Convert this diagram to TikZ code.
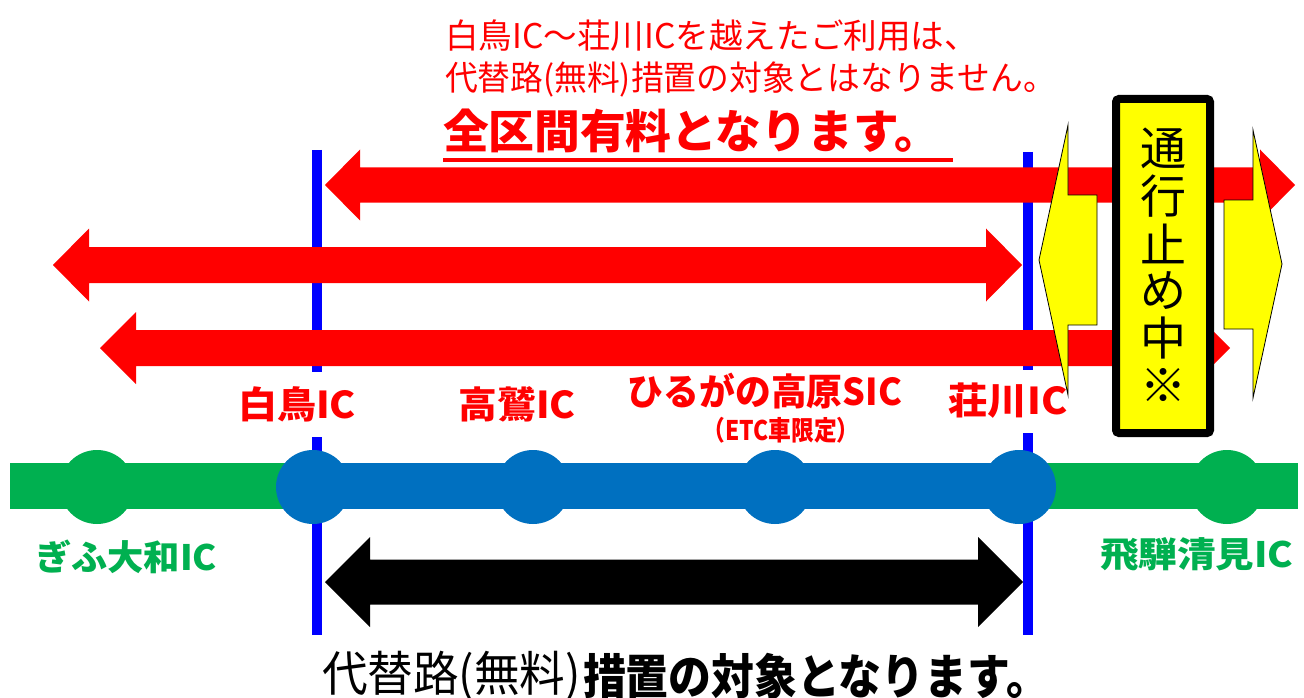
\documentclass[tikz,border=0pt]{standalone}
\usepackage{fontspec}
\usepackage{graphicx}
\setmainfont{Noto Sans CJK JP}
\definecolor{bandblue}{HTML}{0070C0}
\definecolor{grn}{HTML}{00B050}
\definecolor{lineblue}{HTML}{0000FF}
\definecolor{yel}{HTML}{FFFF00}
\newcommand{\fw}[2]{\resizebox{#1pt}{\height}{#2}}
\newcommand{\dblarrow}[7]{%
  \fill[#1] (#2,#4) -- (#2+#7,#4-#6) -- (#2+#7,#4-#5) -- (#3-#7,#4-#5) -- (#3-#7,#4-#6) -- (#3,#4)
   -- (#3-#7,#4+#6) -- (#3-#7,#4+#5) -- (#2+#7,#4+#5) -- (#2+#7,#4+#6) -- cycle;}
\tikzset{
  lbl/.style={inner sep=0pt, outer sep=0pt},
  stred/.style={lbl, text=red, font=\bfseries\fontsize{37pt}{40pt}\selectfont},
  stgrn/.style={lbl, text=grn, font=\bfseries\fontsize{35pt}{40pt}\selectfont},
  vline/.style={lineblue, line width=10pt},
  ic/.style={circle, minimum size=74pt, inner sep=0pt},
  boxch/.style={lbl, font=\fontsize{46pt}{50pt}\selectfont}
}
\begin{document}
\begin{tikzpicture}[x=1pt,y=-1pt]
\fill[white] (0,0) rectangle (1304,698);
\useasboundingbox (0,0) rectangle (1304,698);
% vertical blue lines
\draw[vline] (317,150) -- (317,372);
\draw[vline] (317,437) -- (317,635);
\draw[vline] (1028,152) -- (1028,370);
\draw[vline] (1028,433) -- (1028,635);
% route bands
\fill[grn] (10,463) rectangle (1298,509);
\node[ic, fill=grn] (gifu) at (97,487) {};
\node[ic, fill=grn] (hida) at (1227,487) {};
\fill[bandblue] (313,463) rectangle (1019,509);
\node[ic, fill=bandblue] (shiro) at (313,487) {};
\node[ic, fill=bandblue] (taka) at (533,487) {};
\node[ic, fill=bandblue] (hiru) at (775,487) {};
\node[ic, fill=bandblue] (sho) at (1019,487) {};
% red arrows
\dblarrow{red}{325}{1295}{185}{17.5}{35.5}{35}
\dblarrow{red}{53}{1022}{265}{18}{36.5}{36}
\dblarrow{red}{100}{1230}{348}{18}{36}{36}
% black arrow
\dblarrow{black}{325}{1023}{582}{22.5}{45}{45}
% yellow arrows
\filldraw[fill=yel, draw=black, line width=0.8pt]
  (1039,260) -- (1068,125) -- (1068,195) -- (1097,195) -- (1097,325) -- (1068,325) -- (1068,395) -- cycle;
\filldraw[fill=yel, draw=black, line width=0.8pt]
  (1282,264) -- (1253,130) -- (1253,200) -- (1224,200) -- (1224,329) -- (1253,329) -- (1253,398) -- cycle;
% closed box
\filldraw[fill=yel, draw=black, line width=8pt, rounded corners=3pt] (1116,99) rectangle (1210,433);
\node[boxch] (c1) at (1163,148) {通};
\node[boxch] (c2) at (1163,196) {行};
\node[boxch] (c3) at (1163,244) {止};
\node[boxch] (c4) at (1163,291) {め};
\node[boxch] (c5) at (1163,338) {中};
\node[boxch] (c6) at (1163,385) {※};
% top texts
\node[lbl, anchor=west, text=red, font=\fontsize{34pt}{38pt}\selectfont] (t1) at (445,36) {\fw{533}{白鳥IC～荘川ICを越えたご利用は、}};
\node[lbl, anchor=west, text=red, font=\fontsize{34pt}{38pt}\selectfont] (t2) at (445,79) {\fw{611}{代替路(無料)措置の対象とはなりません。}};
\node[lbl, anchor=west, text=red, font=\bfseries\fontsize{46pt}{50pt}\selectfont] (t3) at (443,131) {\fw{497}{全区間有料となります。}};
\draw[red, line width=4pt] (443,160) -- (953,160);
% station labels
\node[stred] (l1) at (297,404) {\fw{118}{白鳥IC}};
\node[stred] (l2) at (517,404) {\fw{117}{高鷲IC}};
\node[stred] (l3) at (765,391) {\fw{274}{ひるがの高原SIC}};
\node[lbl, text=red, font=\bfseries\fontsize{27pt}{30pt}\selectfont] (l3b) at (781,430) {\fw{157}{（ETC車限定）}};
\node[stred] (l4) at (1008,401) {\fw{119}{荘川IC}};
\node[stgrn] (g1) at (126,557) {\fw{182}{ぎふ大和IC}};
\node[stgrn] (g2) at (1197,554) {\fw{193}{飛騨清見IC}};
% bottom text
\node[lbl, anchor=west, font=\fontsize{48pt}{52pt}\selectfont] (b1) at (322,676) {\fw{259}{代替路(無料)}};
\node[lbl, anchor=west, font=\bfseries\fontsize{48pt}{52pt}\selectfont] (b2) at (583,676) {\fw{466}{措置の対象となります。}};
\end{tikzpicture}
\end{document}
